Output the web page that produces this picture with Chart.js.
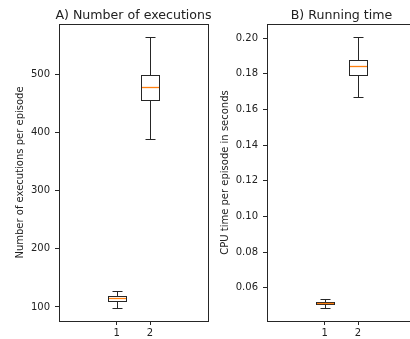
<!DOCTYPE html>
<html><head><meta charset="utf-8">
<script src="https://cdn.jsdelivr.net/npm/chart.js@4/dist/chart.umd.min.js"></script>
<style>
html,body{margin:0;padding:0;background:#fff;overflow:hidden;width:410px;height:339px;position:relative;}
.wrap{position:absolute;top:0;height:339px;width:220px;}
#w1{left:0;}
#w2{left:205px;}
</style></head><body>
<div class="wrap" id="w1"><canvas id="c1"></canvas></div>
<div class="wrap" id="w2"><canvas id="c2"></canvas></div>
<script>
const categories = ['1', '2'];
const positions = [1, 2];

const execLow  = [99, 390];
const execQ1   = [111, 457];
const execMed  = [115, 479];
const execQ3   = [118, 500];
const execHigh = [128, 564];
const execTicks = [100, 200, 300, 400, 500];

const timeLow  = [0.0489, 0.1669];
const timeQ1   = [0.0508, 0.1796];
const timeMed  = [0.0514, 0.1844];
const timeQ3   = [0.0519, 0.1878];
const timeHigh = [0.0535, 0.2004];
const timeTicks = [0.06, 0.08, 0.10, 0.12, 0.14, 0.16, 0.18, 0.20];

const FONT = "'DejaVu Sans', 'Liberation Sans', sans-serif";
const TXT = '#222';
const LINE = '#262626';
const MEDIAN = '#ff7f0e';

Chart.defaults.font.family = FONT;
Chart.defaults.font.size = 10;
Chart.defaults.color = TXT;

const boxExtras = {
  id: 'boxExtras',
  afterDatasetsDraw(chart) {
    const {ctx, chartArea: a, scales: {y}} = chart;
    const ds = chart.data.datasets[0];
    const meta = chart.getDatasetMeta(0);
    ctx.save();
    ctx.lineWidth = 1;
    meta.data.forEach((bar, i) => {
      const cx = Math.round(bar.x) + 0.5;
      const half = Math.round(bar.width / 2);
      const yHigh = Math.round(y.getPixelForValue(ds.high[i])) + 0.5;
      const yLow = Math.round(y.getPixelForValue(ds.low[i])) + 0.5;
      const yQ3 = Math.round(Math.min(bar.y, bar.base)) + 0.5;
      const yQ1 = Math.round(Math.max(bar.y, bar.base)) + 0.5;
      const yMed = Math.round(y.getPixelForValue(ds.med[i])) + 0.5;
      const capHalf = Math.round(half / 2);
      ctx.strokeStyle = LINE;
      ctx.lineWidth = 1;
      ctx.beginPath();
      ctx.moveTo(cx, yHigh); ctx.lineTo(cx, yQ3);
      ctx.moveTo(cx, yQ1); ctx.lineTo(cx, yLow);
      ctx.moveTo(cx - capHalf, yHigh); ctx.lineTo(cx + capHalf, yHigh);
      ctx.moveTo(cx - capHalf, yLow); ctx.lineTo(cx + capHalf, yLow);
      ctx.stroke();
      ctx.strokeRect(cx - half, yQ3, 2 * half, yQ1 - yQ3);
      ctx.strokeStyle = MEDIAN;
      ctx.lineWidth = 1.3;
      ctx.beginPath();
      ctx.moveTo(cx - half + 0.5, yMed); ctx.lineTo(cx + half - 0.5, yMed);
      ctx.stroke();
    });
    // frame
    ctx.strokeStyle = LINE;
    ctx.lineWidth = 1;
    ctx.strokeRect(Math.round(a.left) + 0.5, Math.round(a.top) + 0.5,
                   Math.round(a.right - a.left), Math.round(a.bottom - a.top));
    // title
    ctx.fillStyle = TXT;
    ctx.font = '12.6px ' + FONT;
    ctx.textAlign = 'center';
    ctx.textBaseline = 'alphabetic';
    ctx.fillText(chart.options.plugins.boxExtras.title, (a.left + a.right) / 2, 18.5);
    ctx.restore();
  }
};

function makeChart(id, title, yTitle, q1, q3, med, low, high, ticks, fmt, yWidth, titlePad, padRight) {
  const lo = Math.min(...low), hi = Math.max(...high);
  const m = (hi - lo) * 0.05;
  return new Chart(document.getElementById(id), {
    type: 'bar',
    data: {
      datasets: [{
        data: positions.map((p, i) => ({x: p, y: [q1[i], q3[i]]})),
        med: med, low: low, high: high,
        backgroundColor: '#ffffff',
        borderWidth: 0,
        categoryPercentage: 1,
        barPercentage: 0.55,
        grouped: false
      }]
    },
    options: {
      responsive: true,
      maintainAspectRatio: false,
      animation: false,
      layout: {padding: {top: 24, right: padRight, left: 0, bottom: 0}},
      plugins: {legend: {display: false}, tooltip: {enabled: false}, title: {display: false},
                boxExtras: {title: title}},
      scales: {
        x: {
          type: 'linear', min: -0.73, max: 3.74, offset: false,
          afterBuildTicks: ax => { ax.ticks = positions.map(v => ({value: v})); },
          afterFit: ax => { ax.height = 18; },
          ticks: {callback: (v) => categories[positions.indexOf(v)], padding: 2, maxRotation: 0, color: TXT},
          grid: {display: true, offset: false, drawOnChartArea: false, drawTicks: true, tickLength: 4, color: LINE},
          border: {display: false}
        },
        y: {
          type: 'linear', min: lo - m, max: hi + m,
          afterBuildTicks: ax => { ax.ticks = ticks.map(v => ({value: v})); },
          afterFit: ax => { ax.width = yWidth; },
          ticks: {callback: fmt, padding: 5, color: TXT},
          grid: {display: true, offset: false, drawOnChartArea: false, drawTicks: true, tickLength: 4, color: LINE},
          border: {display: false},
          title: {display: true, text: yTitle, color: TXT, font: {size: 10}, padding: {top: titlePad, bottom: 0}}
        }
      }
    },
    plugins: [boxExtras]
  });
}

makeChart('c1', 'A) Number of executions', 'Number of executions per episode',
  execQ1, execQ3, execMed, execLow, execHigh, execTicks, v => String(v), 59, 14, 12);
makeChart('c2', 'B) Running time', 'CPU time per episode in seconds',
  timeQ1, timeQ3, timeMed, timeLow, timeHigh, timeTicks, v => v.toFixed(2), 62, 14.7, 9);
</script>
</body></html>
